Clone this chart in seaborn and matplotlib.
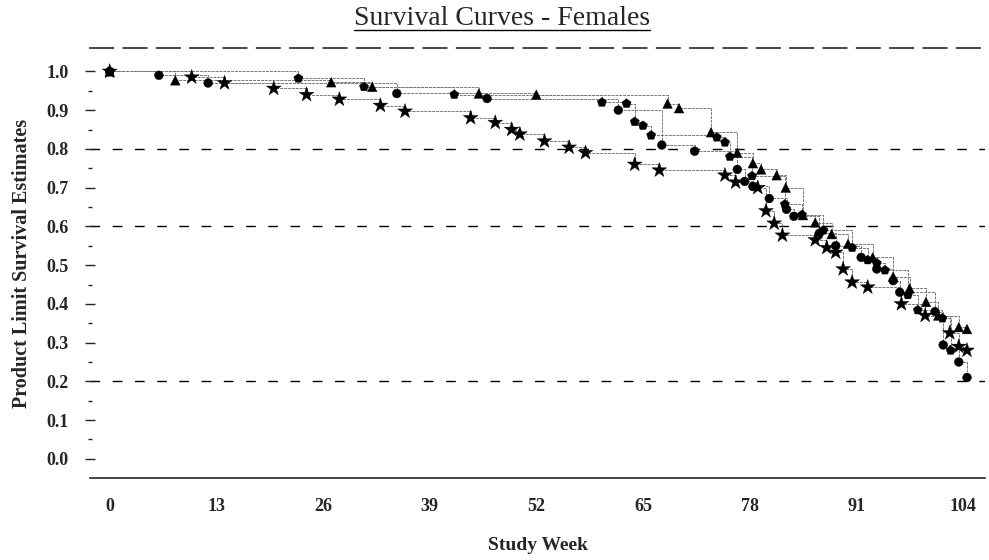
import numpy as np
import pandas as pd
import matplotlib
matplotlib.use("Agg")
import matplotlib.pyplot as plt
import seaborn as sns
from matplotlib.lines import Line2D

# ---------------- data ----------------
star_wk = [0, 10, 14, 20, 24, 28, 33, 36, 44, 47, 49, 50, 53, 56, 58, 64, 67, 75, 76.3, 79,
           80, 81, 82, 86, 87.4, 88.5, 89.4, 90.5, 92.4, 96.5, 99.4, 102.4, 103.5, 104.5]
star_s = [1.0, 0.985, 0.97, 0.956, 0.94, 0.928, 0.912, 0.897, 0.88, 0.868, 0.85, 0.838, 0.82,
          0.804, 0.79, 0.76, 0.745, 0.732, 0.714, 0.70, 0.64, 0.608, 0.577, 0.565, 0.545, 0.533,
          0.49, 0.456, 0.443, 0.40, 0.37, 0.325, 0.29, 0.28]

circle_wk = [0, 6, 12, 35, 46, 62, 67.3, 71.3, 76.5, 77.4, 78.4, 80.4, 82.5, 83.4, 86.5, 88.5,
             91.6, 93.5, 95.5, 96.3, 100.6, 101.6, 103.5, 104.5]
circle_s = [1.0, 0.99, 0.97, 0.943, 0.93, 0.90, 0.81, 0.794, 0.747, 0.716, 0.703, 0.672, 0.644,
            0.626, 0.582, 0.55, 0.52, 0.49, 0.46, 0.43, 0.38, 0.294, 0.25, 0.21]

penta_wk = [0, 23, 31, 42, 60, 63, 64, 65, 66, 74, 75, 75.6, 78.3, 82.3, 84.4, 87, 90.5, 92.4,
            93.5, 94.5, 97.3, 98.5, 101.5, 102.5]
penta_s = [1.0, 0.982, 0.96, 0.94, 0.92, 0.917, 0.87, 0.86, 0.835, 0.83, 0.817, 0.78, 0.73,
           0.657, 0.63, 0.59, 0.545, 0.513, 0.505, 0.487, 0.423, 0.384, 0.363, 0.28]

tri_wk = [0, 8, 27, 32, 45, 52, 68, 69.4, 73.3, 76.5, 78.4, 79.4, 81.3, 82.4, 84.5, 86, 88, 90,
          93, 95.5, 97.5, 99.5, 101, 103.5, 104.5]
tri_s = [1.0, 0.977, 0.972, 0.96, 0.943, 0.94, 0.917, 0.905, 0.843, 0.79, 0.763, 0.747, 0.732,
         0.70, 0.629, 0.61, 0.58, 0.555, 0.52, 0.47, 0.44, 0.405, 0.37, 0.34, 0.335]

x_ticks = [0, 13, 26, 39, 52, 65, 78, 91, 104]
y_ticks = [0.0, 0.1, 0.2, 0.3, 0.4, 0.5, 0.6, 0.7, 0.8, 0.9, 1.0]
grid_levels = [0.2, 0.6, 0.8]

groups = {"Star": (star_wk, star_s), "Circle": (circle_wk, circle_s),
          "Pentagon": (penta_wk, penta_s), "Triangle": (tri_wk, tri_s)}
df = pd.concat([pd.DataFrame({"week": w, "surv": s, "group": g})
                for g, (w, s) in groups.items()], ignore_index=True)

# ---------------- figure ----------------
sns.set_style("white")
plt.rcParams["font.family"] = ["Liberation Serif", "DejaVu Serif"]

fig = plt.figure(figsize=(9.89, 5.6), dpi=100)
ax = fig.add_axes([0.091, 0.146, 0.905, 0.768])

for lv in grid_levels:
    ax.axhline(lv, color="black", lw=1.0, ls=(0, (7, 9)), zorder=0)

sns.lineplot(data=df, x="week", y="surv", units="group", estimator=None,
             drawstyle="steps-post", color="#777777", lw=0.7, ls=(0, (3, 1)),
             ax=ax, legend=False)
sns.scatterplot(data=df, x="week", y="surv", style="group",
                markers={"Star": "*", "Circle": "o", "Pentagon": "p", "Triangle": "^"},
                size="group", sizes={"Star": 125, "Circle": 40, "Pentagon": 48, "Triangle": 48},
                color="black", edgecolor="black", linewidth=0.3, ax=ax, legend=False, zorder=3)

ax.set_xlim(-2.4, 106.7)
ax.set_ylim(-0.05, 1.06)

for side in ["left", "right"]:
    ax.spines[side].set_visible(False)
ax.spines["top"].set_linestyle((0, (14, 6)))
ax.spines["top"].set_linewidth(1.2)
ax.spines["bottom"].set_linewidth(1.2)

ax.set_xticks(x_ticks)
ax.set_xticklabels([str(v) for v in x_ticks], fontsize=13, fontweight="bold")
ax.set_yticks(y_ticks)
ax.set_yticklabels([f"{v:.1f}" for v in y_ticks], fontsize=13, fontweight="bold")
ax.set_yticks(np.arange(0.05, 1.0, 0.1), minor=True)
ax.tick_params(axis="y", which="major", direction="inout", length=7, width=1, pad=12, left=True)
ax.tick_params(axis="y", which="minor", direction="inout", length=3, width=1, left=True)
ax.tick_params(axis="x", which="major", length=0, pad=14, bottom=True)

ax.set_xlabel("Study Week", fontsize=14, fontweight="bold", labelpad=16)
ax.set_ylabel("Product Limit Survival Estimates", fontsize=14.5, fontweight="bold", labelpad=10)

t = fig.text(0.508, 0.944, "Survival Curves - Females", ha="center", va="bottom",
             fontsize=20, family=["Liberation Serif", "DejaVu Serif"])
fig.canvas.draw()
bb = t.get_window_extent()
W, H = fig.get_size_inches() * fig.dpi
yline = (bb.y0 + 1) / H
fig.add_artist(Line2D([bb.x0 / W, bb.x1 / W], [yline, yline], color="black", lw=1.0,
                      transform=fig.transFigure))

fig.savefig("out.png", dpi=100)
